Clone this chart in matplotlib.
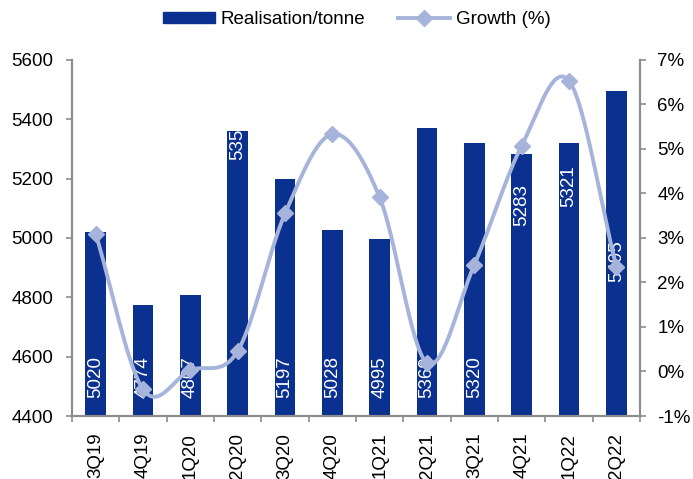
import numpy as np
import matplotlib.pyplot as plt
from matplotlib.lines import Line2D
from matplotlib.patches import Patch

plt.rcParams['font.family'] = ['Liberation Sans', 'DejaVu Sans']

quarters = ['3Q19', '4Q19', '1Q20', '2Q20', '3Q20', '4Q20', '1Q21', '2Q21', '3Q21', '4Q21', '1Q22', '2Q22']
realisation = [5020, 4774, 4807, 5359, 5197, 5028, 4995, 5369, 5320, 5283, 5321, 5495]
growth = [3.09, -0.40, 0.03, 0.46, 3.55, 5.33, 3.91, 0.19, 2.40, 5.07, 6.53, 2.35]
# where the value labels sit (centre, left-axis units)
label_y = [4530, 4530, 4530, 5334, 4530, 4530, 4530, 4530, 4530, 5110, 5175, 4921]

bar_color = '#0A318F'
line_color = '#A6B4DC'
axis_gray = '#8C8C8C'
fs = 13.5


def smooth(x, y, n=30):
    # catmull-rom, close to excel's smoothed line
    x = np.asarray(x, float)
    y = np.asarray(y, float)
    px = np.concatenate([[2 * x[0] - x[1]], x, [2 * x[-1] - x[-2]]])
    py = np.concatenate([[2 * y[0] - y[1]], y, [2 * y[-1] - y[-2]]])
    xs, ys = [], []
    t = np.linspace(0, 1, n)
    for i in range(1, len(px) - 2):
        p0, p1, p2, p3 = py[i - 1], py[i], py[i + 1], py[i + 2]
        q0, q1, q2, q3 = px[i - 1], px[i], px[i + 1], px[i + 2]
        f = lambda a, b, c, d: 0.5 * ((2 * b) + (-a + c) * t + (2 * a - 5 * b + 4 * c - d) * t ** 2 + (-a + 3 * b - 3 * c + d) * t ** 3)
        xs.append(f(q0, q1, q2, q3))
        ys.append(f(p0, p1, p2, p3))
    return np.concatenate(xs), np.concatenate(ys)


fig = plt.figure(figsize=(6.93, 4.79), dpi=100)
ax = fig.add_axes([0.104, 0.1315, 0.8195, 0.7435])
ax2 = ax.twinx()

x = np.arange(len(quarters))
ax.bar(x, realisation, width=0.44, color=bar_color, zorder=2)
for i in range(len(quarters)):
    ax.text(x[i], label_y[i], str(realisation[i]), rotation=90, color='white',
            ha='center', va='center', fontsize=fs, zorder=3)

sx, sy = smooth(x, growth)
ax2.plot(sx, sy, color=line_color, lw=2.8, zorder=3)
ax2.plot(x, growth, ls='none', marker='D', ms=8.5, color=line_color, zorder=4)

ax.set_xlim(-0.5, len(quarters) - 0.5)
ax.set_ylim(4400, 5600)
ax.set_yticks(np.arange(4400, 5601, 200))
ax2.set_ylim(-1, 7)
ax2.set_yticks(np.arange(-1, 8, 1))
ax2.set_yticklabels(['%d%%' % v for v in range(-1, 8)])

ax.set_xticks(x)
ax.set_xticklabels(quarters, rotation=90)
ax.set_xticks(np.arange(-0.5, len(quarters), 1), minor=True)
ax.tick_params(axis='x', which='major', length=0, pad=12, labelsize=fs)
ax.tick_params(axis='x', which='minor', length=4, color=axis_gray, width=1.2)
ax.tick_params(axis='y', length=4, color=axis_gray, width=1.2, labelsize=fs, pad=9.5)
ax2.tick_params(axis='y', length=4, color=axis_gray, width=1.2, labelsize=fs, pad=8.5)

for a in (ax, ax2):
    a.spines['top'].set_visible(False)
    for s in ('left', 'right', 'bottom'):
        a.spines[s].set_color(axis_gray)
        a.spines[s].set_linewidth(1.5)

handles = [Patch(color=bar_color, label='Realisation/tonne'),
           Line2D([], [], color=line_color, lw=2.8, marker='D', ms=8.5, label='Growth (%)')]
fig.legend(handles=handles, loc='center', bbox_to_anchor=(0.515, 0.959), ncol=2,
           frameon=False, fontsize=fs, handlelength=2.75, handleheight=0.6,
           columnspacing=1.75, handletextpad=0.33, borderpad=0)

fig.savefig('out.png', dpi=100)
